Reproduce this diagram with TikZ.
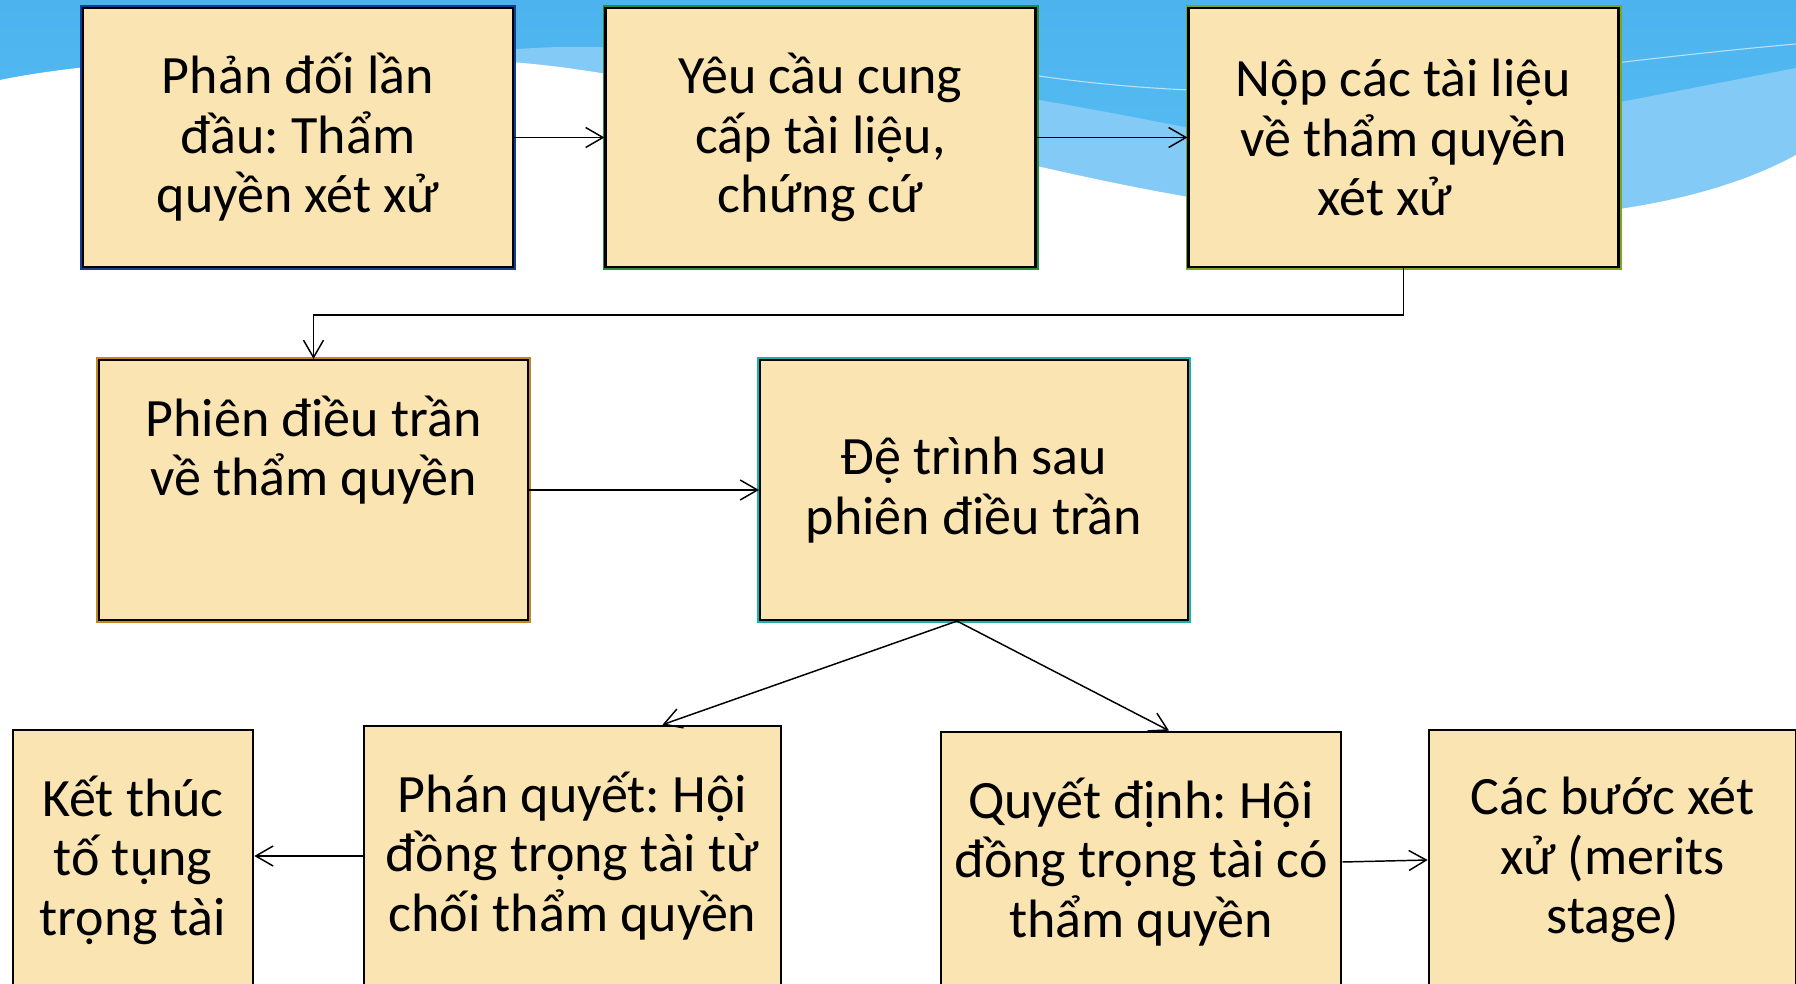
\documentclass[tikz,border=0pt]{standalone}
\usepackage{fontspec}
\setmainfont{Carlito}
\usepackage{tikz}
\usetikzlibrary{arrows.meta,calc}
\definecolor{skytop}{RGB}{76,179,238}
\definecolor{skylow}{RGB}{92,192,244}
\definecolor{skyband}{RGB}{132,202,246}
\definecolor{boxfill}{RGB}{250,228,178}
\definecolor{edgeblue}{RGB}{22,60,140}
\definecolor{edgegreen}{RGB}{40,140,60}
\definecolor{edgeolive}{RGB}{125,165,30}
\definecolor{edgeorange}{RGB}{195,135,30}
\definecolor{edgeteal}{RGB}{30,175,175}
\newcommand\boxfont{\fontsize{40.5pt}{44.6pt}\selectfont\frenchspacing}

\begin{document}
\begin{tikzpicture}[x=0.75pt,y=0.75pt,yscale=-1,xscale=1,
  stepbox/.style={draw=black, line width=1.6pt, fill=boxfill, align=center, inner sep=0pt, font=\boxfont},
  framed/.style={preaction={draw=#1, line width=4.5pt}},
  link/.style={line width=1.1pt, -{Straight Barb[length=13pt,width=15pt]}}]
\useasboundingbox (0,0) rectangle (1796,984);

%Shape: Background sky
\shade [top color=skytop, bottom color=skylow] (0,0) rectangle (1796,250);
%Shape: Light band
\fill [skyband] (400,62) .. controls (480,50) and (560,44) .. (620,48) .. controls (800,60) and (1000,90) .. (1189,128) .. controls (1350,160) and (1500,125) .. (1796,68) -- (1796,300) -- (400,300) -- cycle;
%Shape: White swoosh
\fill [white] (0,80) .. controls (120,55) and (380,45) .. (560,67) .. controls (800,100) and (1000,165) .. (1189,197) .. controls (1400,230) and (1650,235) .. (1796,155) -- (1796,984) -- (0,984) -- cycle;
%Curve Lines
\draw [white, opacity=0.6, line width=0.8] (1000,70) .. controls (1300,120) and (1500,70) .. (1796,44);

%Shape: Rectangle
\node [stepbox, framed=edgeblue, minimum width=322.5pt, minimum height=194.25pt] (obj) at (298,137.5) {Phản đối lần\\đầu: Thẩm\\quyền xét xử};
%Shape: Rectangle
\node [stepbox, framed=edgegreen, minimum width=322.5pt, minimum height=194.25pt] (req) at (820.5,137.5) {Yêu cầu cung\\cấp tài liệu,\\chứng cứ};
%Shape: Rectangle
\node [stepbox, framed=edgeolive, minimum width=322.5pt, minimum height=194.25pt] (sub) at (1403.5,137.5) {Nộp các tài liệu\\về thẩm quyền\\xét xử\hspace*{0.7em}};
%Shape: Rectangle
\node [stepbox, framed=edgeorange, minimum width=321.75pt, minimum height=195pt] (hear) at (313.5,490) {};
% Text Node
\node [align=center, inner sep=0pt, font=\boxfont] (heartxt) at ($(hear.center)+(0,-40)$) {Phiên điều trần\\về thẩm quyền};
%Shape: Rectangle
\node [stepbox, framed=edgeteal, minimum width=321pt, minimum height=195pt] (post) at (974,490) {Đệ trình sau\\phiên điều trần};
%Shape: Rectangle
\node [stepbox, line width=2pt, minimum width=180pt, minimum height=195pt] (end) at (133,860) {Kết thúc\\tố tụng\\trọng tài};
%Shape: Rectangle
\node [stepbox, line width=2pt, minimum width=312.75pt, minimum height=195pt] (deny) at (572.5,856) {Phán quyết: Hội\\đồng trọng tài từ\\chối thẩm quyền};
%Shape: Rectangle
\node [stepbox, line width=2pt, minimum width=300pt, minimum height=195pt] (grant) at (1141,862) {Quyết định: Hội\\đồng trọng tài có\\thẩm quyền};
%Shape: Rectangle
\node [stepbox, line width=2pt, minimum width=275.25pt, minimum height=195pt] (merit) at (1612.5,860) {Các bước xét\\xử (merits\\stage)};

\coordinate (fork) at ($(post.south)+(-17,0)$);

%Straight Lines
\draw [link] (obj.east) -- (req.west);
%Straight Lines
\draw [link] (req.east) -- (sub.west);
%Straight Lines
\draw [link] (sub.south) -- ++(0,47) -| (hear.north);
%Straight Lines
\draw [link] (hear.east) -- (post.west);
%Straight Lines
\draw [link] (fork) -- ($(deny.north)+(90,0)$);
%Straight Lines
\draw [link] (fork) -- ($(grant.north)+(28,0)$);
%Straight Lines
\draw [link] (deny.west) -- (deny.west -| end.east);
%Straight Lines
\draw [link] (grant.east) -- (merit.west);
\end{tikzpicture}
\end{document}
